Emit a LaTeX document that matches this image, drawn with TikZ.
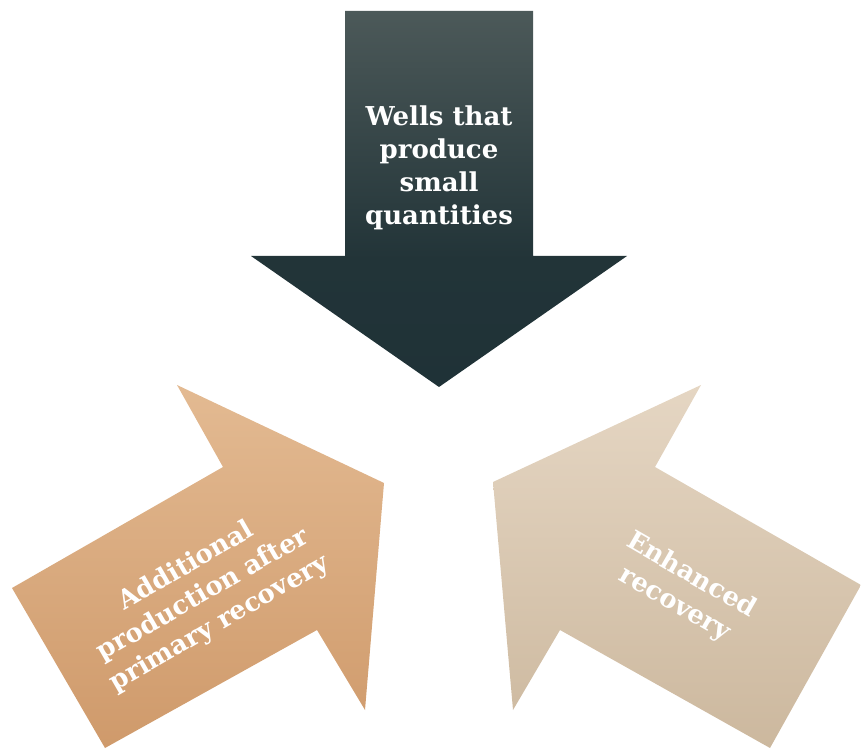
\documentclass[tikz,border=0pt]{standalone}
\usepackage{fontspec}
\setmainfont{DejaVu Serif}
\definecolor{wellstop}{HTML}{4C5959}
\definecolor{wellsmid}{HTML}{223438}
\definecolor{wellsbot}{HTML}{1F3237}
\definecolor{addtop}{HTML}{E3BA92}
\definecolor{addbot}{HTML}{CF9A6B}
\definecolor{enhtop}{HTML}{E5D6C3}
\definecolor{enhbot}{HTML}{CCB89E}
\pgfdeclareverticalshading{wellsshade}{100bp}{color(0bp)=(wellsbot); color(25bp)=(wellsbot); color(42bp)=(wellsmid); color(75bp)=(wellstop); color(100bp)=(wellstop)}
\tikzset{
  arrowlabel/.style={text=white,font=\bfseries\fontsize{26}{33}\selectfont,align=center,inner sep=0pt}
}
\begin{document}
\begin{tikzpicture}[x=1pt,y=1pt]
                \useasboundingbox (0,0) rectangle (861,750);
                % down arrow
                \shade[shading=wellsshade]
                  (345,739) -- (533,739) -- (533,494) -- (627,494) -- (439,363) -- (251,494) -- (345,494) -- cycle;
                % arrow from lower left
                \shade[top color=addtop,bottom color=addbot]
                  (12,162) -- (105,2) -- (317,120) -- (365,40) -- (384,267) -- (177,365) -- (223,283) -- cycle;
                % arrow from lower right
                \shade[top color=enhtop,bottom color=enhbot]
                  (493,268) -- (701,365) -- (655,283) -- (861,165) -- (770,2) -- (560,120) -- (513,40) -- cycle;
                \node[arrowlabel] (wells) at (439,582) {Wells that\\produce\\small\\quantities};
                \node[arrowlabel,rotate=30] (additional) at (203,155) {Additional\\production after\\primary recovery};
                \node[arrowlabel,rotate=-30] (enhanced) at (683,160) {Enhanced\\recovery};
            \end{tikzpicture}
\end{document}
